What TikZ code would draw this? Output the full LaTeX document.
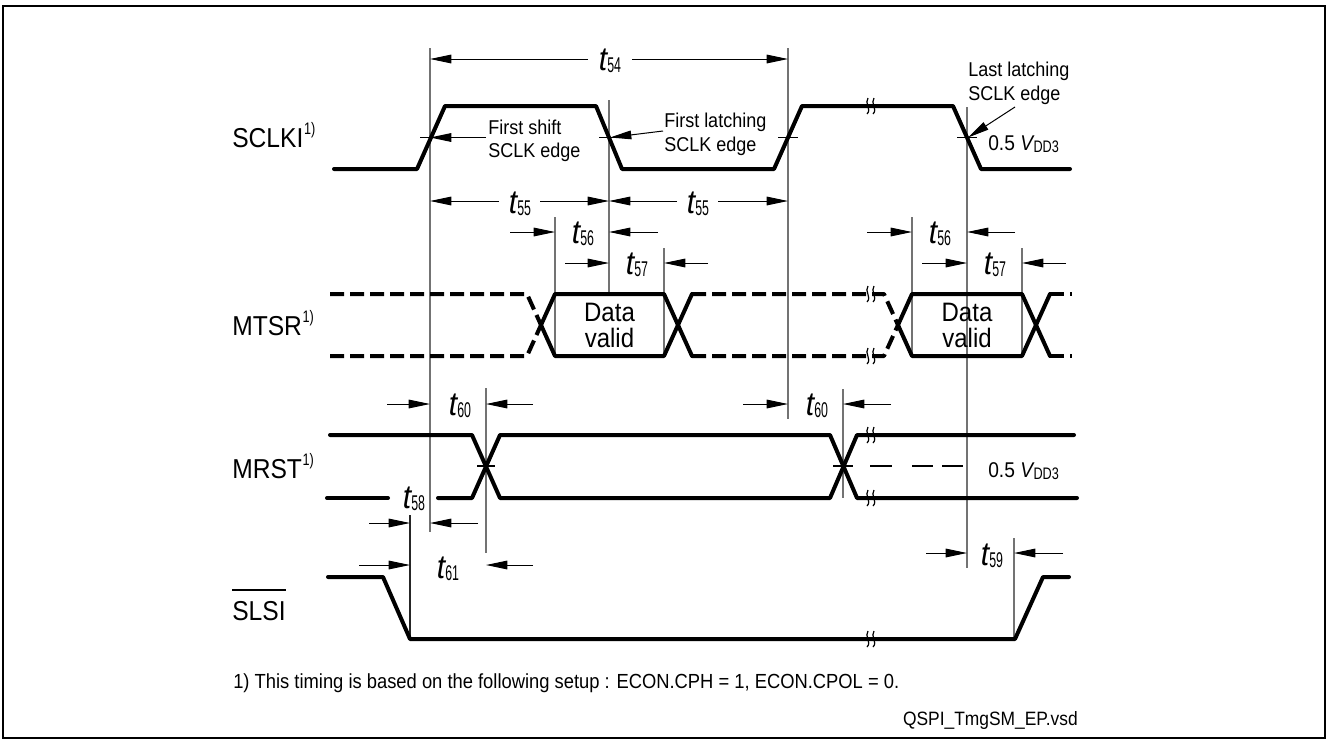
\documentclass[tikz,border=0pt]{standalone}
\usepackage{fontspec}
\setmainfont{Liberation Sans}[FakeStretch=0.9]
\newfontfamily\narrowfont{Liberation Sans}[FakeStretch=0.58]
\newfontfamily\semifont{Liberation Sans}[FakeStretch=0.76]
\usetikzlibrary{arrows.meta}
\newcommand{\tsub}[1]{{\fontsize{25}{25}\selectfont\itshape t}\kern0pt\raisebox{-2pt}{\narrowfont\fontsize{16}{16}\selectfont #1}}
\newcommand{\vddlab}{0.5 {\itshape V}\kern0.3pt\raisebox{-2pt}{\semifont\fontsize{12.5}{12.5}\selectfont DD3}}
\newcommand{\fnmark}{\kern0.5pt\raisebox{9.5pt}{\semifont\fontsize{12.5}{12.5}\selectfont 1)}}
\tikzset{
  sig/.style={line width=3pt, line cap=round, line join=round},
  sigdash/.style={line width=3pt, line cap=butt, line join=round, dash pattern=on 10.5pt off 4.5pt},
  guide/.style={line width=0.8pt, black!55},
  guidek/.style={line width=0.8pt, black!85},
  dim/.style={line width=0.75pt, -{Triangle[length=16pt,width=6.5pt]}},
  lvl/.style={line width=0.8pt},
  brkline/.style={line width=0.9pt},
  siglabel/.style={font=\fontsize{20.5}{22}\selectfont, anchor=base west, inner sep=0pt},
  annot/.style={font=\fontsize{15}{17.5}\selectfont, align=left, anchor=north west, inner sep=0pt},
  tlab/.style={anchor=base, inner sep=0pt},
  datalab/.style={font=\fontsize{20}{19.5}\selectfont, align=center, inner sep=0pt},
  vdd/.style={font=\fontsize{16}{16}\selectfont, anchor=base west, inner sep=0pt},
  note/.style={font=\fontsize{15.3}{15.3}\selectfont, inner sep=0pt},
  brk/.pic={
    \draw[brkline] (-2,-8) .. controls (-6,-3) and (2,3) .. (-3,8);
    \draw[brkline] (4,-8) .. controls (0,-3) and (8,3) .. (3,8);
  }
}
\begin{document}
\begin{tikzpicture}[x=0.75pt,y=-0.75pt]
\useasboundingbox (0,0) rectangle (1328,743);
\draw[line width=1.2pt] (3,6) rectangle (1325,738);

% ---------- guide lines ----------
\coordinate (g430t) at (430,48);   \coordinate (g430b) at (430,532);
\coordinate (g609t) at (609,100);  \coordinate (g609b) at (609,294);
\coordinate (g788t) at (788,48);   \coordinate (g788b) at (788,419);
\coordinate (g967t) at (967,107);  \coordinate (g967b) at (967,568);
\coordinate (g555t) at (555,217);  \coordinate (g555b) at (555,356);
\coordinate (g664t) at (664,248);  \coordinate (g664b) at (664,356);
\coordinate (g912t) at (912,217);  \coordinate (g912b) at (912,356);
\coordinate (g1022t) at (1022,248); \coordinate (g1022b) at (1022,356);
\coordinate (g486t) at (486,388);  \coordinate (g486b) at (486,553);
\coordinate (g410t) at (410,515);  \coordinate (g410b) at (410,639);
\coordinate (g843t) at (843,389);  \coordinate (g843b) at (843,498);
\coordinate (g1014t) at (1014,538); \coordinate (g1014b) at (1014,639);
\foreach \g in {430,609,788,967,555,664,912,1022,486,843,1014}
  \draw[guide] (g\g t) -- (g\g b);
\draw[guidek] (g410t) -- (g410b);

% ---------- waveforms ----------
% SCLKI
\draw[sig] (334,169) -- (417,169) -- (445,106) -- (596,106) -- (622,169) -- (774,169)
  -- (802,106) -- (953,106) -- (981,169) -- (1070,169);
% MTSR
\draw[sigdash] (330,294) -- (527,294) -- (541,325);
\draw[sigdash] (330,356) -- (527,356) -- (541,325);
\draw[sig] (541,325) -- (555,294) -- (664,294) -- (692,356);
\draw[sig] (541,325) -- (555,356) -- (664,356) -- (692,294);
\draw[sigdash] (692,294) -- (884,294) -- (898,325);
\draw[sigdash] (692,356) -- (884,356) -- (898,325);
\draw[sig] (898,325) -- (912,294) -- (1022,294) -- (1050,356);
\draw[sig] (898,325) -- (912,356) -- (1022,356) -- (1050,294);
\draw[sigdash] (1050,294) -- (1072,294);
\draw[sigdash] (1050,356) -- (1072,356);
% MRST
\draw[sig] (330,435) -- (472,435) -- (500,498) -- (830,498) -- (857,435) -- (1074,435);
\draw[sig] (327,498) -- (388,498);
\draw[sig] (438,498) -- (472,498) -- (500,435) -- (830,435) -- (857,498) -- (1077,498);
% SLSI
\draw[sig] (328,577) -- (383,577) -- (410,639) -- (1015,639) -- (1043,577) -- (1069,577);

% break marks
\pic at (870,106) {brk};
\pic at (870,294) {brk};
\pic at (870,356) {brk};
\pic at (870,435) {brk};
\pic at (870,498) {brk};
\pic at (870,639) {brk};

% level marks
\foreach \xa/\xb in {420/442, 599/619, 778/798, 957/977}
  \draw[lvl] (\xa,137.5) -- (\xb,137.5);
\draw[lvl] (477,466) -- (495,466);
\draw[lvl] (833,466) -- (853,466);
\foreach \xa/\xb in {870/892, 912/933, 942/963}
  \draw[lvl] (\xa,466) -- (\xb,466);

% ---------- signal labels ----------
\node[siglabel] (lSCLK) at (232,147) {SCLKI\fnmark};
\node[siglabel] (lMTSR) at (232,335) {MTSR\fnmark};
\node[siglabel] (lMRST) at (232,478) {MRST\fnmark};
\node[siglabel] (lSLSI) at (232,620) {SLSI};
\draw[line width=0.9pt] ([yshift=8pt]lSLSI.north west) -- ([yshift=8pt]lSLSI.north east);

% ---------- data valid ----------
\node[datalab] (dv1) at (609.5,325) {Data\\valid};
\node[datalab] (dv2) at (967,325) {Data\\valid};

% ---------- annotations ----------
\node[annot] (aFS) at (488,119.5) {First shift\\SCLK edge};
\node[annot] (aFL) at (664,113) {First latching\\SCLK edge};
\node[annot] (aLL) at (968,62) {Last latching\\SCLK edge};
\coordinate (aFSs) at (486,137.5);
\draw[dim] (aFSs) -- (aFSs -| g430t);
\coordinate (aFLs) at (663,131);
\coordinate (aFLe) at (610,137.5);
\draw[dim] (aFLs) -- (aFLe);
\coordinate (aLLs) at (1015,107);
\coordinate (aLLe) at (968,137.5);
\draw[dim] (aLLs) -- (aLLe);
\node[vdd] (vS) at (988,150) {\vddlab};
\node[vdd] (vM) at (988,477) {\vddlab};

% ---------- timing labels & arrows ----------
\node[tlab] (t54) at (610,70) {\tsub{54}};
\coordinate (d54l) at (588,59); \coordinate (d54r) at (632,59);
\draw[dim] (d54l) -- (d54l -| g430t);
\draw[dim] (d54r) -- (d54r -| g788t);

\node[tlab] (t55a) at (520,213) {\tsub{55}};
\coordinate (d55al) at (499,201); \coordinate (d55ar) at (540,201);
\draw[dim] (d55al) -- (d55al -| g430t);
\draw[dim] (d55ar) -- (d55ar -| g609t);
\node[tlab] (t55b) at (698,213) {\tsub{55}};
\coordinate (d55bl) at (677,201); \coordinate (d55br) at (718,201);
\draw[dim] (d55bl) -- (d55bl -| g609t);
\draw[dim] (d55br) -- (d55br -| g788t);

\node[tlab] (t56a) at (583,243) {\tsub{56}};
\coordinate (d56al) at (510,232); \coordinate (d56ar) at (658,232);
\draw[dim] (d56al) -- (d56al -| g555t);
\draw[dim] (d56ar) -- (d56ar -| g609t);
\node[tlab] (t57a) at (637,274) {\tsub{57}};
\coordinate (d57al) at (565,263); \coordinate (d57ar) at (708,263);
\draw[dim] (d57al) -- (d57al -| g609t);
\draw[dim] (d57ar) -- (d57ar -| g664t);

\node[tlab] (t56b) at (940,243) {\tsub{56}};
\coordinate (d56bl) at (867,232); \coordinate (d56br) at (1015,232);
\draw[dim] (d56bl) -- (d56bl -| g912t);
\draw[dim] (d56br) -- (d56br -| g967t);
\node[tlab] (t57b) at (995,274) {\tsub{57}};
\coordinate (d57bl) at (922,263); \coordinate (d57br) at (1066,263);
\draw[dim] (d57bl) -- (d57bl -| g967t);
\draw[dim] (d57br) -- (d57br -| g1022t);

\node[tlab] (t60a) at (460,415) {\tsub{60}};
\coordinate (d60al) at (387,404); \coordinate (d60ar) at (533,404);
\draw[dim] (d60al) -- (d60al -| g430t);
\draw[dim] (d60ar) -- (d60ar -| g486t);
\node[tlab] (t60b) at (817,415) {\tsub{60}};
\coordinate (d60bl) at (743,404); \coordinate (d60br) at (891,404);
\draw[dim] (d60bl) -- (d60bl -| g788t);
\draw[dim] (d60br) -- (d60br -| g843t);

\node[tlab] (t58) at (414,508) {\tsub{58}};
\coordinate (d58l) at (369,523); \coordinate (d58r) at (478,523);
\draw[dim] (d58l) -- (d58l -| g410t);
\draw[dim] (d58r) -- (d58r -| g430t);

\node[tlab] (t61) at (448,578) {\tsub{61}};
\coordinate (d61l) at (359,565); \coordinate (d61r) at (533,565);
\draw[dim] (d61l) -- (d61l -| g410t);
\draw[dim] (d61r) -- (d61r -| g486t);

\node[tlab] (t59) at (992,565) {\tsub{59}};
\coordinate (d59l) at (926,553); \coordinate (d59r) at (1063,553);
\draw[dim] (d59l) -- (d59l -| g967t);
\draw[dim] (d59r) -- (d59r -| g1014t);

% ---------- notes ----------
\node[note, anchor=base west] (fn) at (233,688) {1) This timing is based on the following setup : ECON.CPH = 1, ECON.CPOL = 0.};
\node[note, anchor=base east, font=\fontsize{14.5}{14.5}\selectfont] (fname) at (1078,725) {QSPI\_TmgSM\_EP.vsd};
\end{tikzpicture}
\end{document}
